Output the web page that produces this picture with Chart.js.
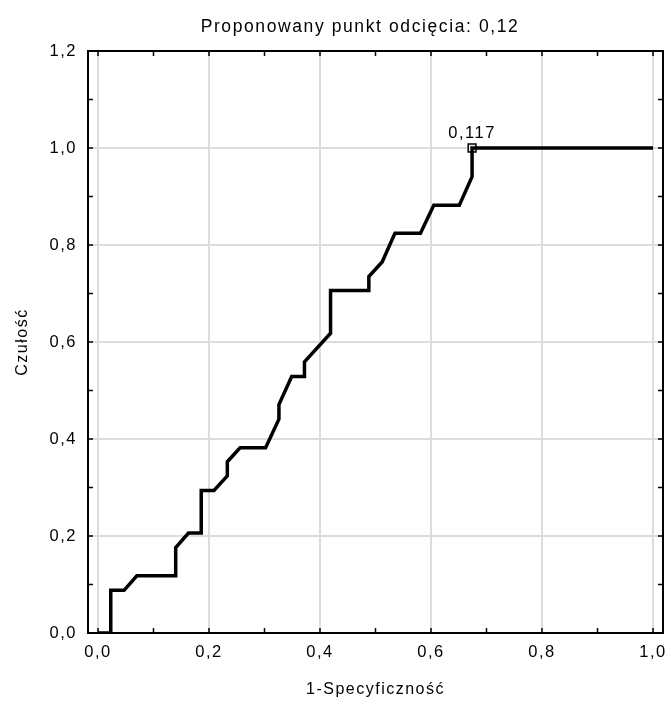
<!DOCTYPE html>
<html lang="pl">
<head>
<meta charset="UTF-8">
<title>Krzywa ROC</title>
<style>
  html, body { margin: 0; padding: 0; background: #fff; }
</style>
</head>
<body>
<canvas id="roc" width="670" height="704"></canvas>

<script src="https://cdn.jsdelivr.net/npm/chart.js"></script>
<script>
// dane krzywej ROC
const chartTitle = 'Proponowany punkt odcięcia: 0,12';
const xTitle = '1-Specyficzność';
const yTitle = 'Czułość';

const fpr = [0, 0.023, 0.023, 0.047, 0.070, 0.140, 0.140, 0.163, 0.186, 0.186, 0.209,
             0.233, 0.233, 0.256, 0.302, 0.326, 0.326, 0.349, 0.372, 0.372, 0.419,
             0.419, 0.488, 0.488, 0.512, 0.535, 0.581, 0.605, 0.651, 0.674, 0.674, 1.0];
const tpr = [0, 0, 0.088, 0.088, 0.118, 0.118, 0.176, 0.206, 0.206, 0.294, 0.294,
             0.324, 0.353, 0.382, 0.382, 0.441, 0.471, 0.529, 0.529, 0.559, 0.618,
             0.706, 0.706, 0.735, 0.765, 0.824, 0.824, 0.882, 0.882, 0.941, 1.0, 1.0];

// punkt odcięcia
const cutX = [0.674];
const cutY = [1.0];
const cutLabel = ['0,117'];

const xTickLabels = ['0,0', '0,2', '0,4', '0,6', '0,8', '1,0'];
const yTickLabels = ['0,0', '0,2', '0,4', '0,6', '0,8', '1,0', '1,2'];

const FONT = 'Liberation Sans, Arial, sans-serif';

const rocData = fpr.map((x, i) => ({ x: x, y: tpr[i] }));
const cutData = cutX.map((x, i) => ({ x: x, y: cutY[i] }));

// szerszy odstęp liter jak w oryginale
const spacingPlugin = {
  id: 'spacing',
  beforeUpdate(chart) { chart.ctx.letterSpacing = '1.5px'; },
  beforeDraw(chart) { chart.ctx.letterSpacing = '1.5px'; }
};

// ramka, znaczniki do środka, tytuł i etykieta punktu
const framePlugin = {
  id: 'frame',
  afterDatasetsDraw(chart) {
    const { ctx, chartArea: a, scales } = chart;
    const xs = scales.x, ys = scales.y;
    ctx.save();
    ctx.strokeStyle = '#000';
    ctx.lineWidth = 1.5;
    ctx.beginPath();
    for (let i = 0; i <= 10; i++) {
      const px = xs.getPixelForValue(i / 10);
      ctx.moveTo(px, a.bottom); ctx.lineTo(px, a.bottom - 5);
      ctx.moveTo(px, a.top); ctx.lineTo(px, a.top + 5);
    }
    for (let i = 0; i <= 12; i++) {
      const py = ys.getPixelForValue(i / 10);
      ctx.moveTo(a.left, py); ctx.lineTo(a.left + 5, py);
      ctx.moveTo(a.right, py); ctx.lineTo(a.right - 5, py);
    }
    ctx.stroke();
    ctx.lineWidth = 2;
    ctx.strokeRect(a.left, a.top, a.right - a.left, a.bottom - a.top);

    ctx.fillStyle = '#000';
    ctx.textAlign = 'center';
    ctx.textBaseline = 'middle';
    ctx.letterSpacing = '1.6px';
    ctx.font = '17.5px ' + FONT;
    ctx.fillText(chartTitle, 360, 27);

    ctx.letterSpacing = '1.5px';
    ctx.font = '16.5px ' + FONT;
    cutData.forEach((p, i) => {
      ctx.fillText(cutLabel[i], xs.getPixelForValue(p.x), ys.getPixelForValue(p.y) - 15);
    });
    ctx.restore();
  }
};

const ctx = document.getElementById('roc');
new Chart(ctx, {
  type: 'scatter',
  data: {
    datasets: [{
      data: rocData,
      showLine: true,
      borderColor: '#000',
      borderWidth: 3.5,
      pointRadius: 0,
      tension: 0
    }, {
      data: cutData,
      pointStyle: 'rect',
      pointRadius: 5.5,
      pointBorderWidth: 1.5,
      pointBorderColor: '#000',
      pointBackgroundColor: '#f2f2f2'
    }]
  },
  options: {
    responsive: false,
    animation: false,
    layout: { padding: { top: 51, right: 3, left: 0, bottom: 0 } },
    plugins: {
      legend: { display: false },
      tooltip: { enabled: false },
      title: { display: false }
    },
    scales: {
      x: {
        type: 'linear',
        min: -0.018,
        max: 1.018,
        border: { display: false },
        grid: { color: '#dcdcdc', lineWidth: 2, tickLength: 8, tickColor: 'rgba(0,0,0,0)' },
        ticks: {
          stepSize: 0.2,
          includeBounds: false,
          padding: 2,
          color: '#000',
          font: { family: FONT, size: 16.5 },
          callback: (v, i) => xTickLabels[i]
        },
        title: {
          display: true, text: xTitle, color: '#000',
          font: { family: FONT, size: 16 },
          padding: { top: 0, bottom: 5 }
        },
        afterFit(s) { s.height = 71; s.paddingLeft = 0; s.paddingRight = 0; }
      },
      y: {
        type: 'linear',
        min: 0,
        max: 1.2,
        border: { display: false },
        grid: { color: '#dcdcdc', lineWidth: 2, tickLength: 8, tickColor: 'rgba(0,0,0,0)' },
        ticks: {
          stepSize: 0.2,
          padding: 3,
          color: '#000',
          font: { family: FONT, size: 16.5 },
          callback: (v, i) => yTickLabels[i]
        },
        title: {
          display: true, text: yTitle, color: '#000',
          font: { family: FONT, size: 16 },
          padding: { top: 13, bottom: 0 }
        },
        afterFit(s) { s.width = 88; s.paddingTop = 0; s.paddingBottom = 0; }
      }
    }
  },
  plugins: [spacingPlugin, framePlugin]
});
</script>
</body>
</html>
